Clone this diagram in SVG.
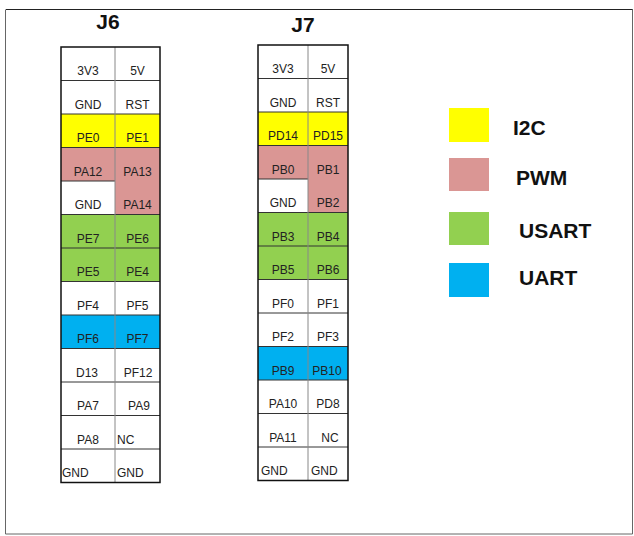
<svg xmlns="http://www.w3.org/2000/svg" width="634" height="536" viewBox="0 0 634 536">
<style>
.t{font-family:"Liberation Sans",Arial,sans-serif;font-size:12px;fill:#222;text-anchor:middle}
.s{text-anchor:start}
.h{font-family:"Liberation Sans",Arial,sans-serif;font-size:21px;font-weight:bold;fill:#111;text-anchor:middle}
.lg{font-family:"Liberation Sans",Arial,sans-serif;font-size:21px;font-weight:bold;fill:#111}
.hl{stroke:#333;stroke-width:1}
.vl{stroke:#888;stroke-width:1}
.bd{fill:none;stroke:#111;stroke-width:1.5}
.y{fill:#FFFF00}.p{fill:#DA9694}.g{fill:#92D050}.b{fill:#00B0F0}
</style>
<rect x="0" y="0" width="634" height="536" fill="#fff"/>
<path d="M6 9.5H632.5V534H5.5V9.5" fill="none" stroke="#666" stroke-width="1"/>
<line x1="6" y1="9.5" x2="632.5" y2="9.5" stroke="#222" stroke-width="1.2"/>

<g id="J6">
<text class="h" x="108" y="29">J6</text>
<rect class="y" x="61" y="114" width="99" height="33.5"/>
<rect class="p" x="61" y="147.5" width="99" height="33.5"/>
<rect class="p" x="115" y="181" width="45" height="33.5"/>
<rect class="g" x="61" y="214.5" width="99" height="67"/>
<rect class="b" x="61" y="315" width="99" height="33.5"/>
<g>
<line class="hl" x1="61" y1="80.5" x2="160" y2="80.5"/>
<line class="hl" x1="61" y1="114" x2="160" y2="114"/>
<line class="hl" x1="61" y1="147.5" x2="160" y2="147.5"/>
<line class="hl" x1="61" y1="181" x2="115" y2="181"/>
<line class="hl" x1="61" y1="214.5" x2="160" y2="214.5"/>
<line class="hl" x1="61" y1="248" x2="160" y2="248"/>
<line class="hl" x1="61" y1="281.5" x2="160" y2="281.5"/>
<line class="hl" x1="61" y1="315" x2="160" y2="315"/>
<line class="hl" x1="61" y1="348.5" x2="160" y2="348.5"/>
<line class="hl" x1="61" y1="382" x2="160" y2="382"/>
<line class="hl" x1="61" y1="415.5" x2="160" y2="415.5"/>
<line class="hl" x1="61" y1="449" x2="160" y2="449"/>
<line class="vl" x1="115" y1="47" x2="115" y2="482.5"/>
</g>
<rect class="bd" x="61" y="47" width="99" height="435.5"/>
<text class="t" x="88" y="75">3V3</text><text class="t" x="137.5" y="75">5V</text>
<text class="t" x="88" y="108.5">GND</text><text class="t" x="137.5" y="108.5">RST</text>
<text class="t" x="88" y="142">PE0</text><text class="t" x="137.5" y="142">PE1</text>
<text class="t" x="88" y="175.5">PA12</text><text class="t" x="137.5" y="175.5">PA13</text>
<text class="t" x="88" y="209">GND</text><text class="t" x="137.5" y="209">PA14</text>
<text class="t" x="88" y="242.5">PE7</text><text class="t" x="137.5" y="242.5">PE6</text>
<text class="t" x="88" y="276">PE5</text><text class="t" x="137.5" y="276">PE4</text>
<text class="t" x="88" y="309.5">PF4</text><text class="t" x="137.5" y="309.5">PF5</text>
<text class="t" x="88" y="343">PF6</text><text class="t" x="137.5" y="343">PF7</text>
<text class="t" x="87" y="376.5">D13</text><text class="t" x="138" y="376.5">PF12</text>
<text class="t" x="88" y="410">PA7</text><text class="t" x="139" y="410">PA9</text>
<text class="t" x="88" y="443.5">PA8</text><text class="t s" x="117" y="443.5">NC</text>
<text class="t s" x="62" y="477">GND</text><text class="t s" x="117" y="477">GND</text>
</g>

<g id="J7">
<text class="h" x="303" y="32">J7</text>
<rect class="y" x="258" y="112" width="90" height="33.5"/>
<rect class="p" x="258" y="145.5" width="90" height="33.5"/>
<rect class="p" x="308" y="179" width="40" height="33.5"/>
<rect class="g" x="258" y="212.5" width="90" height="67"/>
<rect class="b" x="258" y="346.5" width="90" height="33.5"/>
<g>
<line class="hl" x1="258" y1="78.5" x2="348" y2="78.5"/>
<line class="hl" x1="258" y1="112" x2="348" y2="112"/>
<line class="hl" x1="258" y1="145.5" x2="348" y2="145.5"/>
<line class="hl" x1="258" y1="179" x2="308" y2="179"/>
<line class="hl" x1="258" y1="212.5" x2="348" y2="212.5"/>
<line class="hl" x1="258" y1="246" x2="348" y2="246"/>
<line class="hl" x1="258" y1="279.5" x2="348" y2="279.5"/>
<line class="hl" x1="258" y1="313" x2="348" y2="313"/>
<line class="hl" x1="258" y1="346.5" x2="348" y2="346.5"/>
<line class="hl" x1="258" y1="380" x2="348" y2="380"/>
<line class="hl" x1="258" y1="413.5" x2="348" y2="413.5"/>
<line class="hl" x1="258" y1="447" x2="348" y2="447"/>
<line class="vl" x1="308" y1="45" x2="308" y2="480.5"/>
</g>
<rect class="bd" x="258" y="45" width="90" height="435.5"/>
<text class="t" x="283" y="73">3V3</text><text class="t" x="328" y="73">5V</text>
<text class="t" x="283" y="106.5">GND</text><text class="t" x="328" y="106.5">RST</text>
<text class="t" x="283" y="140">PD14</text><text class="t" x="328" y="140">PD15</text>
<text class="t" x="283" y="173.5">PB0</text><text class="t" x="328" y="173.5">PB1</text>
<text class="t" x="283" y="207">GND</text><text class="t" x="328" y="207">PB2</text>
<text class="t" x="283" y="240.5">PB3</text><text class="t" x="328" y="240.5">PB4</text>
<text class="t" x="283" y="274">PB5</text><text class="t" x="328" y="274">PB6</text>
<text class="t" x="283" y="307.5">PF0</text><text class="t" x="328" y="307.5">PF1</text>
<text class="t" x="283" y="341">PF2</text><text class="t" x="328" y="341">PF3</text>
<text class="t" x="283" y="374.5">PB9</text><text class="t" x="327" y="374.5">PB10</text>
<text class="t" x="283" y="408">PA10</text><text class="t" x="328" y="408">PD8</text>
<text class="t" x="283" y="441.5">PA11</text><text class="t" x="330" y="441.5">NC</text>
<text class="t s" x="261" y="475">GND</text><text class="t s" x="311" y="475">GND</text>
</g>

<g id="legend-i2c"><rect class="y" x="449" y="108" width="40" height="34"/><text class="lg" x="513" y="135">I2C</text></g>
<g id="legend-pwm"><rect class="p" x="449" y="158" width="40" height="33"/><text class="lg" x="516" y="185">PWM</text></g>
<g id="legend-usart"><rect class="g" x="449" y="212" width="40" height="33"/><text class="lg" x="519" y="238">USART</text></g>
<g id="legend-uart"><rect class="b" x="449" y="263" width="40" height="34"/><text class="lg" x="519" y="285">UART</text></g>
</svg>
